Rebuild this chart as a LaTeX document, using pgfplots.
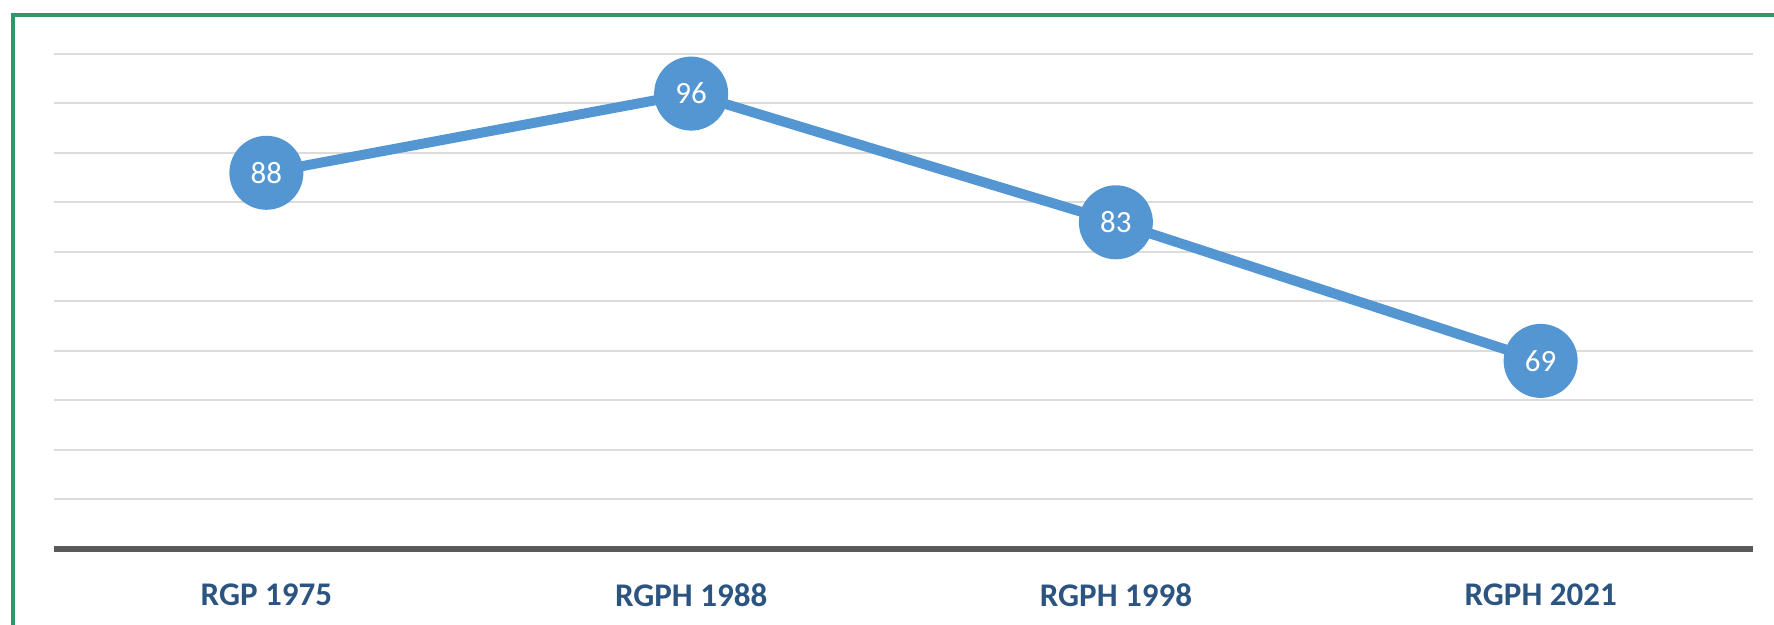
\documentclass[border=0pt]{standalone}
\usepackage{fontspec}
\setmainfont{Carlito}
\usepackage{pgfplots}
\pgfplotsset{compat=1.18}
\definecolor{framegreen}{RGB}{50,150,105}
\definecolor{lineblue}{RGB}{84,150,210}
\definecolor{labelblue}{RGB}{44,84,128}
\definecolor{gridgray}{RGB}{220,220,220}
\definecolor{basegray}{RGB}{90,90,90}
\begin{document}
\begin{tikzpicture}[x=1mm,y=1mm]
\useasboundingbox (0,0) rectangle (177.4,62.4);
\clip (0,0) rectangle (177.4,62.4);
\draw[framegreen, line width=0.4mm] (1.3,-5) rectangle (185,60.9);
\begin{axis}[
  at={(5.4mm,7.5mm)}, anchor=south west,
  scale only axis, width=169.9mm, height=49.5mm,
  xmin=-0.5, xmax=3.5, ymin=50, ymax=100,
  clip=false,
  axis line style={draw=none},
  major tick length=0pt,
  xtick=data,
  xticklabels={RGP 1975, RGPH 1988, RGPH 1998, RGPH 2021},
  xticklabel style={anchor=center, yshift=-4.6mm, font=\fontsize{9.4}{11}\selectfont\bfseries, text=labelblue},
  ytick={55,60,...,100}, yticklabels={},
  ymajorgrids, grid style={gridgray, line width=0.2mm},
  extra y ticks={50}, extra y tick labels={},
  extra y tick style={grid style={basegray, line width=0.55mm}},
  /pgf/number format/assume math mode=true,
]
\addplot[lineblue, line width=1.0mm, mark=*, mark size=3.2mm,
  mark options={fill=lineblue, draw=none},
  nodes near coords,
  every node near coord/.append style={anchor=center, text=white, font=\fontsize{8.8}{10}\selectfont}]
  coordinates {(0,88) (1,96) (2,83) (3,69)};
\end{axis}
\end{tikzpicture}
\end{document}
